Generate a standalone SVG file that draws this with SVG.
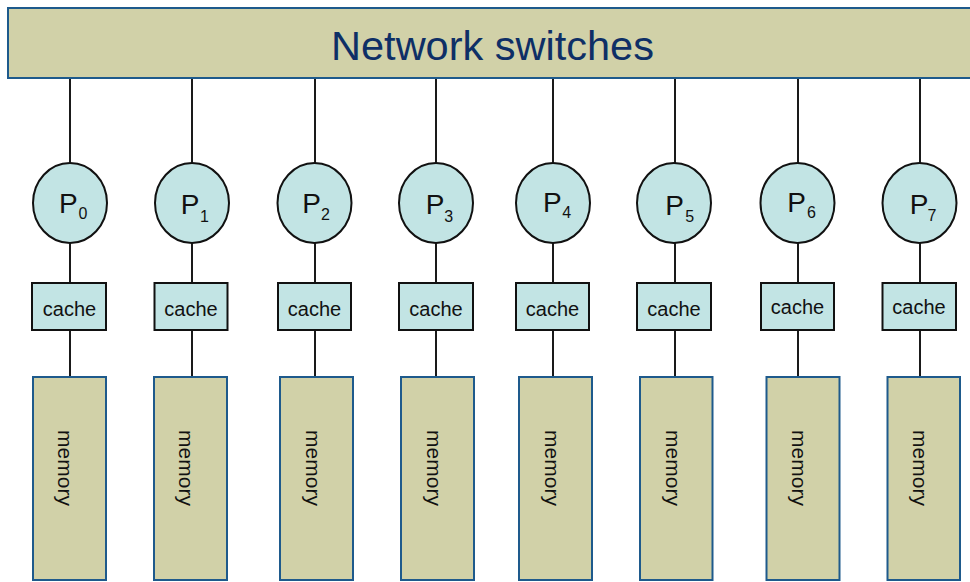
<svg xmlns="http://www.w3.org/2000/svg" width="970" height="582" viewBox="0 0 970 582">
<style>
.sw{fill:#D1D1A8;stroke:#1E5A8C;stroke-width:2}
.mem{fill:#D1D1A8;stroke:#1E5A8C;stroke-width:2}
.cpu{fill:#C2E4E4;stroke:#111;stroke-width:2}
.cache{fill:#C2E4E4;stroke:#111;stroke-width:2}
.ln{stroke:#1a1a1a;stroke-width:2;fill:none}
.t{font-family:"Liberation Sans",Arial,sans-serif;fill:#111}
.title{font-family:"Liberation Sans",Arial,sans-serif;fill:#0E2F66;font-size:41.5px}
.p{font-size:28px}
.sub{font-size:16px}
.c{font-size:20px;text-anchor:middle}
.m{font-size:21px;text-anchor:middle}
</style>
<rect width="970" height="582" fill="#ffffff"/>
<g id="connectors">
<path class="ln" d="M70 78V163M70 243V283M70 330V377"/>
<path class="ln" d="M192 78V163M192 243V283M192 330V377"/>
<path class="ln" d="M315 78V163M315 243V283M315 330V377"/>
<path class="ln" d="M436 78V163M436 243V283M436 330V377"/>
<path class="ln" d="M553 78V163M553 243V283M553 330V377"/>
<path class="ln" d="M675 78V163M675 243V283M675 330V377"/>
<path class="ln" d="M798 78V163M798 243V283M798 330V377"/>
<path class="ln" d="M920 78V163M920 243V283M920 330V377"/>
</g>
<g id="network-switches">
<rect class="sw" x="8" y="8" width="975" height="70"/>
<text class="title" x="492.5" y="60" text-anchor="middle">Network switches</text>
</g>
<g id="node0">
<ellipse class="cpu" cx="70" cy="203" rx="37" ry="40"/>
<text class="t p" x="59" y="213">P</text><text class="t sub" x="78.5" y="219">0</text>
<rect class="cache" x="32" y="283" width="74" height="47"/>
<text class="t c" x="69.5" y="316">cache</text>
<rect class="mem" x="33" y="377" width="73" height="203"/>
<text class="t m" transform="translate(58,468) rotate(90)">memory</text>
</g>
<g id="node1">
<ellipse class="cpu" cx="192" cy="203" rx="37" ry="40"/>
<text class="t p" x="180.7" y="214">P</text><text class="t sub" x="200" y="221.5">1</text>
<rect class="cache" x="154.5" y="283" width="73" height="47"/>
<text class="t c" x="191" y="316">cache</text>
<rect class="mem" x="154" y="377" width="73" height="203"/>
<text class="t m" transform="translate(179,468) rotate(90)">memory</text>
</g>
<g id="node2">
<ellipse class="cpu" cx="314.5" cy="203" rx="37" ry="40"/>
<text class="t p" x="302.3" y="212.7">P</text><text class="t sub" x="321" y="220">2</text>
<rect class="cache" x="278" y="283" width="73" height="47"/>
<text class="t c" x="314.5" y="315.5">cache</text>
<rect class="mem" x="280" y="377" width="73" height="203"/>
<text class="t m" transform="translate(305.5,468) rotate(90)">memory</text>
</g>
<g id="node3">
<ellipse class="cpu" cx="436" cy="203" rx="37" ry="40"/>
<text class="t p" x="425.7" y="214">P</text><text class="t sub" x="444.3" y="221.7">3</text>
<rect class="cache" x="399" y="283" width="74" height="47"/>
<text class="t c" x="436" y="315.5">cache</text>
<rect class="mem" x="401" y="377" width="73" height="203"/>
<text class="t m" transform="translate(426.5,468) rotate(90)">memory</text>
</g>
<g id="node4">
<ellipse class="cpu" cx="553" cy="203" rx="37" ry="40"/>
<text class="t p" x="543" y="212.3">P</text><text class="t sub" x="562.3" y="218.3">4</text>
<rect class="cache" x="516" y="283" width="73" height="47"/>
<text class="t c" x="552.5" y="316">cache</text>
<rect class="mem" x="519" y="377" width="73" height="203"/>
<text class="t m" transform="translate(544.5,468) rotate(90)">memory</text>
</g>
<g id="node5">
<ellipse class="cpu" cx="674" cy="203" rx="37" ry="40"/>
<text class="t p" x="665.3" y="215">P</text><text class="t sub" x="685.3" y="221.7">5</text>
<rect class="cache" x="637" y="283" width="74" height="47"/>
<text class="t c" x="674" y="316">cache</text>
<rect class="mem" x="640" y="377" width="72.5" height="203"/>
<text class="t m" transform="translate(665.5,468) rotate(90)">memory</text>
</g>
<g id="node6">
<ellipse class="cpu" cx="797.5" cy="203" rx="37" ry="40"/>
<text class="t p" x="787.3" y="211.7">P</text><text class="t sub" x="807" y="218.3">6</text>
<rect class="cache" x="761" y="283" width="73" height="47"/>
<text class="t c" x="797.5" y="313.5">cache</text>
<rect class="mem" x="766.5" y="377" width="73" height="203"/>
<text class="t m" transform="translate(792,468) rotate(90)">memory</text>
</g>
<g id="node7">
<ellipse class="cpu" cx="919.5" cy="203" rx="37" ry="40"/>
<text class="t p" x="909.7" y="214">P</text><text class="t sub" x="927.6" y="220.7">7</text>
<rect class="cache" x="882.5" y="283" width="73.5" height="47"/>
<text class="t c" x="919" y="313.5">cache</text>
<rect class="mem" x="887.5" y="377" width="72.5" height="203"/>
<text class="t m" transform="translate(913,468) rotate(90)">memory</text>
</g>
</svg>
